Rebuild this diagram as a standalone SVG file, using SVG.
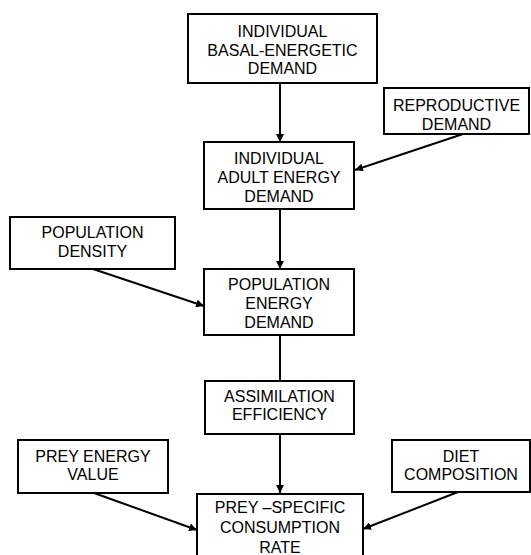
<svg xmlns="http://www.w3.org/2000/svg" width="531" height="555" viewBox="0 0 531 555">
<style>
.box{fill:#fff;stroke:#000;stroke-width:2}
.t{font-family:"Liberation Sans",Arial,sans-serif;font-size:16px;fill:#000;text-anchor:middle}
.c{stroke:#000;stroke-width:2;fill:none}
</style>
<defs>
<marker id="ah" viewBox="0 0 10 10" refX="10" refY="5" markerWidth="4" markerHeight="4" orient="auto" markerUnits="strokeWidth">
<path d="M0,0 L10,5 L0,10 z" fill="#000"/>
</marker>
</defs>
<rect width="531" height="555" fill="#fff"/>
<g id="connectors">
<line class="c" x1="280" y1="83" x2="280" y2="142" marker-end="url(#ah)"/>
<line class="c" x1="463" y1="134" x2="355" y2="170" marker-end="url(#ah)"/>
<line class="c" x1="280" y1="209" x2="280" y2="269" marker-end="url(#ah)"/>
<line class="c" x1="93" y1="269" x2="204" y2="306" marker-end="url(#ah)"/>
<line class="c" x1="280" y1="335" x2="280" y2="381"/>
<line class="c" x1="280" y1="434" x2="280" y2="493" marker-end="url(#ah)"/>
<line class="c" x1="94" y1="493" x2="197" y2="530" marker-end="url(#ah)"/>
<line class="c" x1="458" y1="492" x2="363" y2="529" marker-end="url(#ah)"/>
</g>
<g id="basal">
<rect class="box" x="188" y="14" width="189" height="69"/>
<text class="t" x="282.5" y="37">INDIVIDUAL</text>
<text class="t" x="282.5" y="55.5">BASAL-ENERGETIC</text>
<text class="t" x="282.5" y="74">DEMAND</text>
</g>
<g id="reproductive">
<rect class="box" x="384" y="88" width="145" height="46"/>
<text class="t" x="456.5" y="111">REPRODUCTIVE</text>
<text class="t" x="456.5" y="130">DEMAND</text>
</g>
<g id="adult">
<rect class="box" x="204" y="142" width="150" height="67"/>
<text class="t" x="279" y="164">INDIVIDUAL</text>
<text class="t" x="279" y="183">ADULT ENERGY</text>
<text class="t" x="279" y="202">DEMAND</text>
</g>
<g id="density">
<rect class="box" x="10" y="217" width="165" height="52"/>
<text class="t" x="92.5" y="238">POPULATION</text>
<text class="t" x="92.5" y="257">DENSITY</text>
</g>
<g id="popenergy">
<rect class="box" x="204" y="269" width="150" height="66"/>
<text class="t" x="279" y="290">POPULATION</text>
<text class="t" x="279" y="309">ENERGY</text>
<text class="t" x="279" y="328">DEMAND</text>
</g>
<g id="assimilation">
<rect class="box" x="205" y="381" width="149" height="53"/>
<text class="t" x="279.5" y="402">ASSIMILATION</text>
<text class="t" x="279.5" y="420">EFFICIENCY</text>
</g>
<g id="preyenergy">
<rect class="box" x="18" y="440" width="150" height="53"/>
<text class="t" x="93" y="462">PREY ENERGY</text>
<text class="t" x="93" y="480">VALUE</text>
</g>
<g id="diet">
<rect class="box" x="392" y="440" width="138" height="52"/>
<text class="t" x="461" y="462">DIET</text>
<text class="t" x="461" y="480">COMPOSITION</text>
</g>
<g id="consumption">
<rect class="box" x="197" y="494" width="166" height="70"/>
<text class="t" x="280" y="513">PREY –SPECIFIC</text>
<text class="t" x="280" y="533">CONSUMPTION</text>
<text class="t" x="280" y="553">RATE</text>
</g>
</svg>
